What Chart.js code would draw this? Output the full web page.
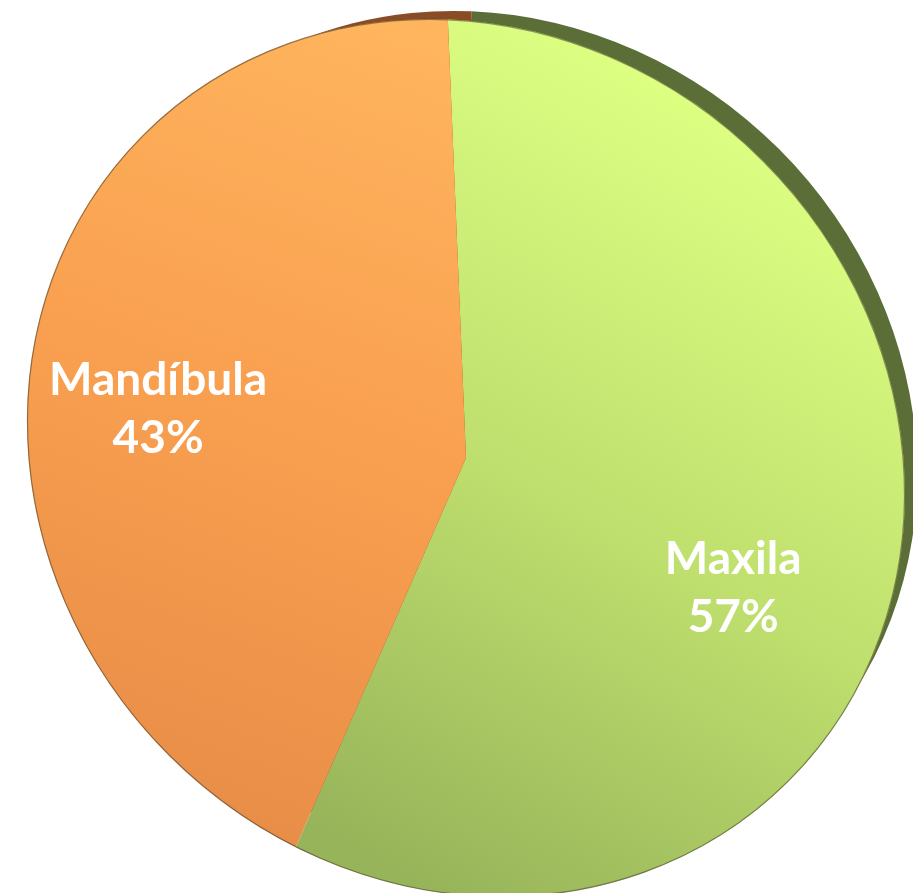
<!DOCTYPE html>
<html>
<head>
<meta charset="utf-8">
<script src="https://cdn.jsdelivr.net/npm/chart.js@4"></script>
<style>
html,body{margin:0;padding:0;background:#fff;overflow:hidden;}
#wrap{width:913px;height:940px;}
</style>
</head>
<body>
<div id="wrap"><canvas id="gp"></canvas></div>
<script>
const labels = ["Maxila", "Mandíbula"];
const values = [57, 43];
const pctText = ["57%", "43%"];

// look
const topColors = ["#dcff82", "#ffb55e"];
const midColors = ["#bfdf6e", "#f9a050"];
const lowColors = ["#98b45a", "#e88e48"];
const sideColors = ["#5b6e38", "#8a4c24"];
const labelPos = [[0.610, 0.295], [-0.703, -0.114]]; // fraction of radius from centre
const tilt = [1.043, 0.96]; // stretch along the NW-SE and NE-SW axes (perspective look)

const ctx = document.getElementById("gp");

function fillFor(c) {
  const i = c.dataIndex;
  const a = c.chart.chartArea;
  if (!a) return midColors[i];
  const w = a.right - a.left, h = a.bottom - a.top;
  let g;
  if (i === 0) {
    g = c.chart.ctx.createLinearGradient(a.right - 0.1 * w, a.top + 0.15 * h, a.left + 0.45 * w, a.bottom);
  } else {
    g = c.chart.ctx.createLinearGradient(a.left + 0.45 * w, a.top, a.left + 0.15 * w, a.top + 0.9 * h);
  }
  g.addColorStop(0, topColors[i]);
  g.addColorStop(0.5, midColors[i]);
  g.addColorStop(1, lowColors[i]);
  return g;
}

// tilt the pie a little and add the dark rim at the top right
const depth = {
  id: "depth",
  beforeDatasetsDraw(chart) {
    const c = chart.ctx;
    const arcs = chart.getDatasetMeta(0).data;
    const cx = arcs[0].x, cy = arcs[0].y;
    c.save();
    c.translate(cx, cy);
    c.rotate(Math.PI / 4);
    c.scale(tilt[0], tilt[1]);
    c.rotate(-Math.PI / 4);
    c.translate(-cx, -cy);

    c.save();
    arcs.forEach((a, i) => {
      const x = a.x + 24, y = a.y - 20;
      c.beginPath();
      c.moveTo(x, y);
      c.arc(x, y, a.outerRadius - 11, a.startAngle, a.endAngle);
      c.closePath();
      c.fillStyle = sideColors[i];
      c.fill();
    });
    c.restore();
  },
  afterDatasetsDraw(chart) {
    const c = chart.ctx;
    const a = chart.getDatasetMeta(0).data[0];
    c.beginPath();
    c.arc(a.x, a.y, a.outerRadius - 0.5, 0, Math.PI * 2);
    c.strokeStyle = "rgba(70,60,40,0.55)";
    c.lineWidth = 1.2;
    c.stroke();
    c.restore();
  }
};

const sliceLabels = {
  id: "sliceLabels",
  afterDraw(chart) {
    const c = chart.ctx;
    const arcs = chart.getDatasetMeta(0).data;
    c.save();
    c.fillStyle = "#ffffff";
    c.font = "bold 46px Lato";
    c.textAlign = "center";
    c.textBaseline = "alphabetic";
    arcs.forEach((a, i) => {
      const x = a.x + labelPos[i][0] * a.outerRadius;
      const y = a.y + labelPos[i][1] * a.outerRadius;
      c.fillText(labels[i], x, y - 29 + 16);
      c.fillText(pctText[i], x, y + 29 + 16);
    });
    c.restore();
  }
};

new Chart(ctx, {
  type: "pie",
  data: {
    labels: labels,
    datasets: [{
      data: values,
      backgroundColor: fillFor,
      borderWidth: 0
    }]
  },
  options: {
    responsive: true,
    maintainAspectRatio: false,
    animation: false,
    layout: { padding: { left: 28, right: 9, top: 20, bottom: 44 } },
    plugins: {
      legend: { display: false },
      tooltip: { enabled: false }
    }
  },
  plugins: [depth, sliceLabels]
});
</script>
</body>
</html>
